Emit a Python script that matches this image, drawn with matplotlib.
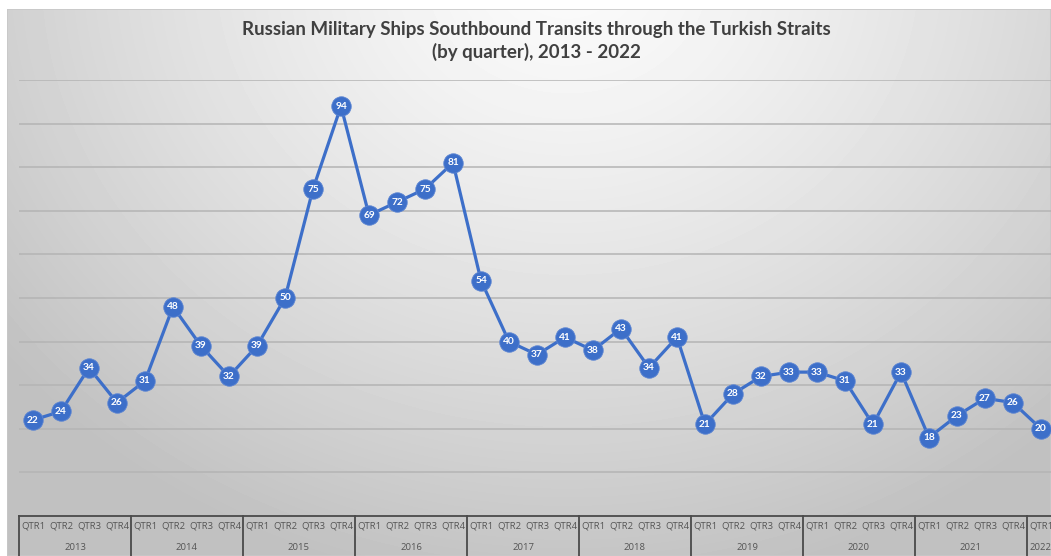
import numpy as np
import matplotlib
matplotlib.use("Agg")
import matplotlib.pyplot as plt

# quarterly southbound transits, 2013 Q1 .. 2022 Q1
years = ["2013", "2014", "2015", "2016", "2017", "2018", "2019", "2020", "2021", "2022"]
quarters = ["QTR1", "QTR2", "QTR3", "QTR4"]
transits = [22, 24, 34, 26,
            31, 48, 39, 32,
            39, 50, 75, 94,
            69, 72, 75, 81,
            54, 40, 37, 41,
            38, 43, 34, 41,
            21, 28, 32, 33,
            33, 31, 21, 33,
            18, 23, 27, 26,
            20]

title = "Russian Military Ships Southbound Transits through the Turkish Straits\n(by quarter), 2013 - 2022"

W, H = 1051, 556
fig = plt.figure(figsize=(W / 100, H / 100), dpi=100)
fig.patch.set_facecolor("white")

# gradient chart background
bg = fig.add_axes([7 / W, 0, 1 - 7 / W, (H - 9) / H])
yy, xx = np.mgrid[0:H - 9, 0:W - 7]
d = np.sqrt(((xx - 560) / 1.0) ** 2 + ((yy + 40) * 1.15) ** 2)
shade = 0.985 - 0.23 * np.clip(d / 720, 0, 1) ** 1.3
bg.imshow(shade, cmap="gray", vmin=0, vmax=1, aspect="auto", interpolation="bilinear")
bg.set_axis_off()
bg.add_patch(plt.Rectangle((0, 0), 1, 1, transform=bg.transAxes, fill=False,
                           edgecolor="#c8c8c8", lw=1.2))

fig.text(536 / W, 1 - 41 / H, title, ha="center", va="center", fontsize=13.5,
         fontweight="bold", color="#404040", family="Lato", linespacing=1.35)

ax = fig.add_axes([19 / W, (H - 516) / H, (28 * 37) / W, (516 - 80) / H])
ax.patch.set_alpha(0)
n = len(transits)
x = np.arange(n)
ax.set_xlim(-0.5, n - 0.5)
ax.set_ylim(0, 100)
for v in range(10, 101, 10):
    ax.axhline(v, color="#b4b4b4", lw=1.1, zorder=1)

blue = "#3d6fc9"
ax.plot(x, transits, color=blue, lw=2.3, marker="o", markersize=14,
        markerfacecolor=blue, markeredgecolor="#5b84d2", markeredgewidth=0.6, zorder=3)
for xi, v in zip(x, transits):
    ax.text(xi, v, str(v), ha="center", va="center", fontsize=7.3, fontweight="bold",
            color="white", family="Lato", zorder=4)

for s in ["top", "right", "left"]:
    ax.spines[s].set_visible(False)
ax.spines["bottom"].set_color("#4a4a4a")
ax.spines["bottom"].set_linewidth(1.3)
ax.set_xticks([])
ax.set_yticks([])

# two-level category axis
tr = ax.get_xaxis_transform()
ybot = -40 / 436
for k in range(len(years) + 1):
    xb = -0.5 + 4 * k
    ax.plot([xb, xb], [0, ybot], color="#4a4a4a", lw=1.3, transform=tr, clip_on=False)
for i in range(n):
    ax.text(x[i], -10 / 436, quarters[i % 4], ha="center", va="center", fontsize=6.8,
            color="#555555", family="Open Sans", transform=tr, clip_on=False)
for k, yr in enumerate(years):
    xs = x[4 * k:4 * k + 4]
    ax.text(xs.mean(), -32 / 436, yr, ha="center", va="center", fontsize=6.8,
            color="#555555", family="Open Sans", transform=tr, clip_on=False)

fig.savefig("out.png", dpi=100)
